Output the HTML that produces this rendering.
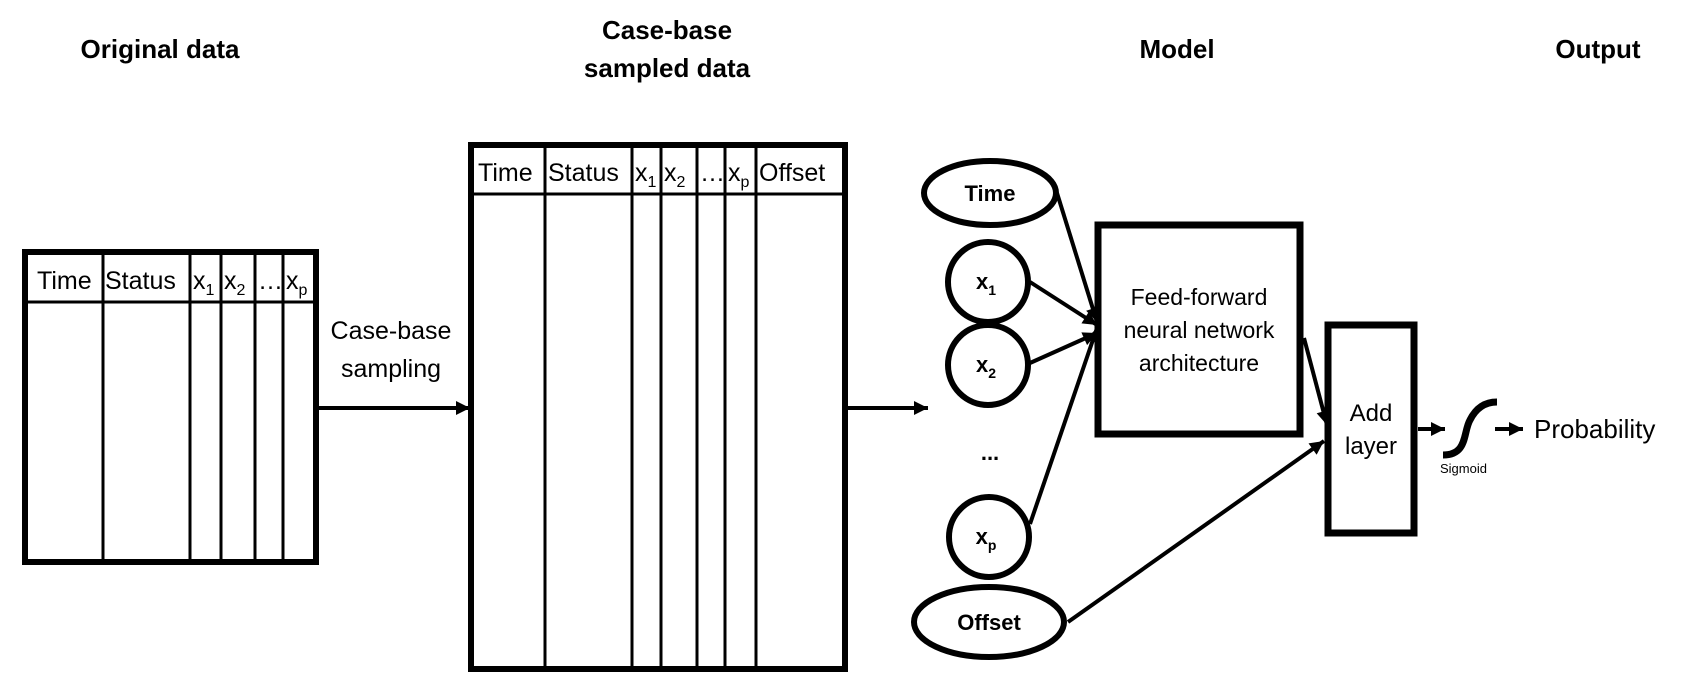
<!DOCTYPE html>
<html><head><meta charset="utf-8"><style>
html,body{margin:0;padding:0;background:#fff;}
svg{display:block;}
text{font-family:"Liberation Sans",sans-serif;fill:#000;}
.b{font-weight:bold;}
</style></head><body>
<svg width="1684" height="686" viewBox="0 0 1684 686" xmlns="http://www.w3.org/2000/svg">
<defs>
<marker id="a2" viewBox="0 0 10 10" markerWidth="16" markerHeight="14" refX="10" refY="5" orient="auto" markerUnits="userSpaceOnUse">
<path d="M0,0 L10,5 L0,10 z" fill="#000"/>
</marker>
</defs>

<!-- titles -->
<text x="160" y="58" font-size="26" class="b" text-anchor="middle">Original data</text>
<text x="667" y="39" font-size="26" class="b" text-anchor="middle">Case-base</text>
<text x="667" y="77" font-size="26" class="b" text-anchor="middle">sampled data</text>
<text x="1177" y="58" font-size="26" class="b" text-anchor="middle">Model</text>
<text x="1598" y="58" font-size="26" class="b" text-anchor="middle">Output</text>

<!-- left table -->
<g stroke="#000" fill="none">
<rect x="25" y="252" width="291" height="310" stroke-width="6"/>
<line x1="25" y1="302" x2="316" y2="302" stroke-width="3"/>
<line x1="103" y1="252" x2="103" y2="562" stroke-width="3"/>
<line x1="190" y1="252" x2="190" y2="562" stroke-width="3"/>
<line x1="221" y1="252" x2="221" y2="562" stroke-width="3"/>
<line x1="255" y1="252" x2="255" y2="562" stroke-width="3"/>
<line x1="283" y1="252" x2="283" y2="562" stroke-width="3"/>
</g>
<g font-size="25">
<text x="37" y="289">Time</text>
<text x="105" y="289">Status</text>
<text x="193" y="289">x<tspan font-size="16" dy="6">1</tspan></text>
<text x="224" y="289">x<tspan font-size="16" dy="6">2</tspan></text>
<text x="258" y="289">…</text>
<text x="286" y="289">x<tspan font-size="16" dy="6">p</tspan></text>
</g>

<!-- case-base sampling -->
<text x="391" y="339" font-size="25" text-anchor="middle">Case-base</text>
<text x="391" y="377" font-size="25" text-anchor="middle">sampling</text>
<line x1="318" y1="408" x2="470" y2="408" stroke="#000" stroke-width="4" marker-end="url(#a2)"/>

<!-- middle table -->
<g stroke="#000" fill="none">
<rect x="471" y="145" width="374" height="524" stroke-width="6"/>
<line x1="471" y1="194" x2="845" y2="194" stroke-width="3"/>
<line x1="545" y1="145" x2="545" y2="669" stroke-width="3"/>
<line x1="632" y1="145" x2="632" y2="669" stroke-width="3"/>
<line x1="661" y1="145" x2="661" y2="669" stroke-width="3"/>
<line x1="697" y1="145" x2="697" y2="669" stroke-width="3"/>
<line x1="725" y1="145" x2="725" y2="669" stroke-width="3"/>
<line x1="756" y1="145" x2="756" y2="669" stroke-width="3"/>
</g>
<g font-size="25">
<text x="478" y="181">Time</text>
<text x="548" y="181">Status</text>
<text x="635" y="181">x<tspan font-size="16" dy="6">1</tspan></text>
<text x="664" y="181">x<tspan font-size="16" dy="6">2</tspan></text>
<text x="700" y="181">…</text>
<text x="728" y="181">x<tspan font-size="16" dy="6">p</tspan></text>
<text x="759" y="181">Offset</text>
</g>
<line x1="847" y1="408" x2="928" y2="408" stroke="#000" stroke-width="4" marker-end="url(#a2)"/>

<!-- connectors into FF -->
<g stroke="#000" stroke-width="4" marker-end="url(#a2)">
<line x1="1057" y1="193" x2="1097" y2="322"/>
<line x1="1030" y1="282" x2="1097" y2="325"/>
<line x1="1030" y1="363" x2="1097" y2="333"/>
<line x1="1030" y1="524" x2="1097" y2="328"/>
<line x1="1068" y1="622" x2="1324" y2="441"/>
<line x1="1304" y1="338" x2="1327" y2="425"/>
</g>

<!-- nodes -->
<g stroke="#000" stroke-width="6" fill="#fff">
<ellipse cx="990" cy="193" rx="66" ry="32"/>
<circle cx="988" cy="282" r="40"/>
<circle cx="988" cy="365" r="40"/>
<circle cx="989" cy="537" r="40"/>
<ellipse cx="989" cy="622" rx="75" ry="35"/>
</g>
<g font-size="22" class="b" text-anchor="middle">
<text x="990" y="201">Time</text>
<text x="986" y="289">x<tspan font-size="14" dy="6">1</tspan></text>
<text x="986" y="372">x<tspan font-size="14" dy="6">2</tspan></text>
<text x="986" y="544">x<tspan font-size="14" dy="6">p</tspan></text>
<text x="989" y="630">Offset</text>
<text x="990" y="460">...</text>
</g>

<!-- FF box -->
<rect x="1098" y="225" width="202" height="209" fill="#fff" stroke="#000" stroke-width="7"/>
<g font-size="23" text-anchor="middle">
<text x="1199" y="305">Feed-forward</text>
<text x="1199" y="338">neural network</text>
<text x="1199" y="371">architecture</text>
</g>

<!-- Add layer -->
<rect x="1328" y="325" width="86" height="208" fill="#fff" stroke="#000" stroke-width="7"/>
<text x="1371" y="421" font-size="24" text-anchor="middle">Add</text>
<text x="1371" y="454" font-size="24" text-anchor="middle">layer</text>

<line x1="1418" y1="429" x2="1445" y2="429" stroke="#000" stroke-width="4" marker-end="url(#a2)"/>
<path d="M1443,455 C1468,455 1463,432 1470,420 C1476,408 1485,402 1497,402" fill="none" stroke="#000" stroke-width="7"/>
<text x="1440" y="473" font-size="13">Sigmoid</text>
<line x1="1495" y1="429" x2="1523" y2="429" stroke="#000" stroke-width="4" marker-end="url(#a2)"/>
<text x="1534" y="438" font-size="26">Probability</text>
</svg>
</body></html>
